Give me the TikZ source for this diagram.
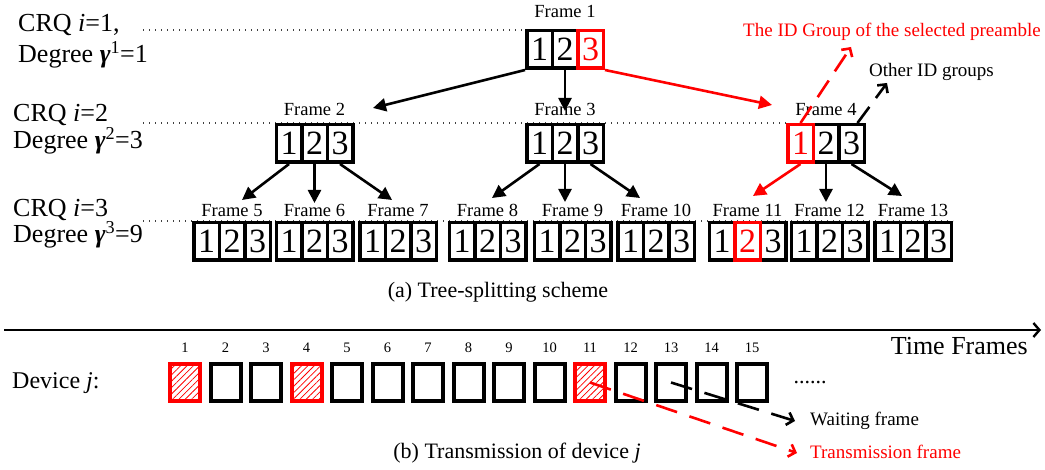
\documentclass[tikz,border=0pt]{standalone}
\usepackage{fontspec}
\setmainfont{Liberation Serif}
\usetikzlibrary{arrows.meta,patterns.meta,calc}
\definecolor{myred}{RGB}{255,0,0}
\newcommand\fsz[1]{\fontsize{#1}{#1}\selectfont}
\newcommand\blkframe[5]{%
  \node[cell] (#1-1) at (#2-25.5,#3) {1};
  \node[cell] (#1-2) at (#2,#3) {2};
  \node[cell] (#1-3) at (#2+25.5,#3) {3};
  \node[flabel] (#1-l) at (#2,#4) {#5};}
\begin{document}
\begin{tikzpicture}[x=1pt,y=-1pt,
  cell/.style={draw,line width=3.5pt,minimum width=25.5pt,minimum height=37.5pt,inner sep=0pt,font=\fsz{34}},
  redcell/.style={cell,draw=myred,text=myred},
  flabel/.style={anchor=base,font=\fsz{18.5},inner sep=0pt},
  tarrow/.style={line width=2.6pt,-{Triangle[length=13pt,width=13pt]}},
  dots/.style={line width=1.2pt,dash pattern=on 1.2pt off 4.8pt,black!75},
  slot/.style={draw,line width=4pt,minimum width=30pt,minimum height=37pt,inner sep=0pt},
  hslot/.style={slot,draw=myred,pattern={Lines[angle=45,distance=4.5pt,line width=0.8pt]},pattern color=myred},
  darrow/.style={line width=2.6pt,dash pattern=on 22pt off 13pt,-{Straight Barb[length=6pt,width=13pt]}},
  lbl/.style={anchor=base west,inner sep=0pt},
  num/.style={anchor=base,inner sep=0pt,font=\fsz{14.5}},
]
\useasboundingbox (0,0) rectangle (1045,470);
% dotted level lines
\coordinate (d1a) at (143,30); \coordinate (d1b) at (525,30);
\coordinate (d2a) at (143,123); \coordinate (d2b) at (786,123);
\coordinate (d3a) at (143,221); \coordinate (d3b) at (953,221);
\draw[dots] (d1a) -- (d1b);
\draw[dots] (d2a) -- (d2b);
\draw[dots] (d3a) -- (d3b);
% left labels
\node[lbl,font=\fsz{26}] (crq1) at (18,32) {CRQ \textit{i}=1,};
\node[lbl,font=\fsz{26}] (deg1) at (18,63) {Degree {\bfseries\itshape γ}\textsuperscript{1}=1};
\node[lbl,font=\fsz{26}] (crq2) at (13,122) {CRQ \textit{i}=2};
\node[lbl,font=\fsz{26}] (deg2) at (13,149) {Degree {\bfseries\itshape γ}\textsuperscript{2}=3};
\node[lbl,font=\fsz{26}] (crq3) at (13,217) {CRQ \textit{i}=3};
\node[lbl,font=\fsz{26}] (deg3) at (13,243) {Degree {\bfseries\itshape γ}\textsuperscript{3}=9};
% level 1
\node[cell] (f1-1) at (539.5,49.5) {1};
\node[cell] (f1-2) at (565,49.5) {2};
\node[redcell] (f1-3) at (590.5,49.5) {3};
\node[flabel] (f1-l) at (565,18) {Frame 1};
% level 2
\blkframe{f2}{314.5}{143.5}{116}{Frame 2}
\blkframe{f3}{565}{143.5}{116}{Frame 3}
\node[cell] (f4-2) at (826,143.5) {2};
\node[cell] (f4-3) at (851.5,143.5) {3};
\node[redcell] (f4-1) at (800.5,143.5) {1};
\node[flabel] (f4-l) at (826,116) {Frame 4};
% level 3
\blkframe{f5}{232}{241.5}{217}{Frame 5}
\blkframe{f6}{314.5}{241.5}{217}{Frame 6}
\blkframe{f7}{398}{241.5}{217}{Frame 7}
\blkframe{f8}{487.5}{241.5}{217}{Frame 8}
\blkframe{f9}{572.5}{241.5}{217}{Frame 9}
\blkframe{f10}{656}{241.5}{217}{Frame 10}
\node[cell] (f11-1) at (722,241.5) {1};
\node[cell] (f11-3) at (773,241.5) {3};
\node[redcell] (f11-2) at (747.5,241.5) {2};
\node[flabel] (f11-l) at (747.5,217) {Frame 11};
\blkframe{f12}{829.5}{241.5}{217}{Frame 12}
\blkframe{f13}{913}{241.5}{217}{Frame 13}
% tree arrows
\coordinate (t2) at (373,108);
\coordinate (t3) at (565,111);
\coordinate (t4) at (772,105);
\coordinate (t5) at (242,200);
\coordinate (t6) at (314.5,203);
\coordinate (t7) at (392,200);
\coordinate (t8) at (492,198);
\coordinate (t9) at (565,202);
\coordinate (t10) at (640,198);
\coordinate (t11) at (753,196);
\coordinate (t12) at (826,202);
\coordinate (t13) at (902,196);
\draw[tarrow] (f1-1.south west) -- (t2);
\draw[tarrow] (f1-2.south) -- (t3);
\draw[tarrow,myred] (f1-3.south east) -- (t4);
\draw[tarrow] (f2-1.south) -- (t5);
\draw[tarrow] (f2-2.south) -- (t6);
\draw[tarrow] (f2-3.south) -- (t7);
\draw[tarrow] (f3-1.south) -- (t8);
\draw[tarrow] (f3-2.south) -- (t9);
\draw[tarrow] (f3-3.south) -- (t10);
\draw[tarrow,myred] (f4-1.south) -- (t11);
\draw[tarrow] (f4-2.south) -- (t12);
\draw[tarrow] (f4-3.south) -- (t13);
% ID group arrows
\node[lbl,font=\fsz{19},text=myred] (idg) at (743,37) {The ID Group of the selected preamble};
\node[lbl,font=\fsz{19}] (oth) at (869,77) {Other ID groups};
\coordinate (i1) at (851,47);
\coordinate (i2) at (887,83);
\draw[darrow,myred,dash pattern=on 20pt off 11pt] (f4-1.north) -- (i1);
\draw[darrow,dash pattern=on 20pt off 11pt] ($(f4-3.north)+(6,0)$) -- (i2);
% caption a
\node[anchor=base,inner sep=0pt,font=\fsz{22}] (capa) at (498,298) {(a) Tree-splitting scheme};
% time axis
\coordinate (ax0) at (4,330); \coordinate (ax1) at (1041,330);
\draw[line width=2.4pt,-{Straight Barb[length=6pt,width=14pt]}] (ax0) -- (ax1);
\node[anchor=base east,inner sep=0pt,font=\fsz{26}] (tf) at (1028,355) {Time Frames};
\node[lbl,font=\fsz{24}] (dev) at (12,389) {Device \textit{j}:};
% slots
\foreach \i in {1,...,15}{
  \pgfmathsetmacro\cx{185+(\i-1)*40.5}
  \node[num] (n\i) at (\cx,353) {\i};
}
\foreach \i in {2,3,5,6,7,8,9,10,12,13,14,15}{
  \pgfmathsetmacro\cx{185+(\i-1)*40.5}
  \node[slot] (b\i) at (\cx,382.5) {};
}
\foreach \i in {1,4,11}{
  \pgfmathsetmacro\cx{185+(\i-1)*40.5}
  \node[hslot] (b\i) at (\cx,382.5) {};
}
\node[anchor=base,inner sep=0pt,font=\fsz{22}] (ell) at (810,384) {......};
% legend
\node[lbl,font=\fsz{19}] (wt) at (810,425) {Waiting frame};
\node[lbl,font=\fsz{19},text=myred] (tt) at (810,458) {Transmission frame};
\coordinate (w1) at (795,421);
\coordinate (r1) at (797,453);
\draw[darrow] (b13.center) -- (w1);
\draw[darrow,myred] (b11.center) -- (r1);
\node[anchor=base,inner sep=0pt,font=\fsz{22}] (capb) at (517,458) {(b) Transmission of device \textit{j}};
\end{tikzpicture}
\end{document}
